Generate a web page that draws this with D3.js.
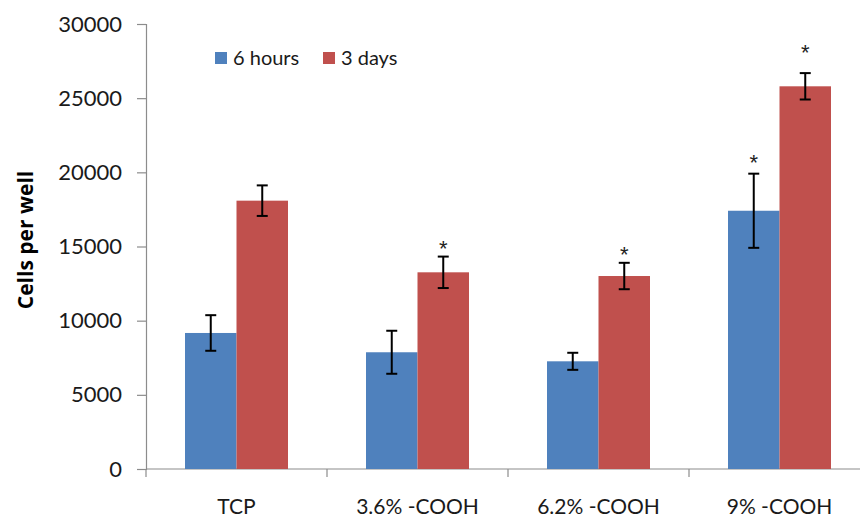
<!DOCTYPE html>
<html>
<head>
<meta charset="utf-8">
<script src="https://cdn.jsdelivr.net/npm/d3@7"></script>
<style>
  html, body { margin: 0; padding: 0; background: #fff; }
  svg { display: block; }
  text { font-family: Lato, "Open Sans", sans-serif; }
</style>
</head>
<body>
<svg id="chart" width="860" height="518"></svg>
<script>
// ---- data ----
const categories = ["TCP", "3.6% -COOH", "6.2% -COOH", "9% -COOH"];
const seriesNames = ["6 hours", "3 days"];
const hours6 = [9170, 7870, 7260, 17410];
const hours6Err = [1200, 1450, 575, 2500];
const days3 = [18090, 13260, 13010, 25800];
const days3Err = [1030, 1060, 890, 890];
// significance stars: value (data units) at which each star is drawn, null = none
const hours6Star = [null, null, null, 20990];
const days3Star = [null, 15170, 14830, 28400];
const yTicks = [0, 5000, 10000, 15000, 20000, 25000, 30000];
const yLabel = "Cells per well";

const colors = { "6 hours": "#4F81BD", "3 days": "#C0504D" };

const rows = categories.map((c, i) => ({
  cat: c,
  values: [
    { s: "6 hours", v: hours6[i], e: hours6Err[i], star: hours6Star[i] },
    { s: "3 days", v: days3[i], e: days3Err[i], star: days3Star[i] }
  ]
}));

// ---- layout ----
const svg = d3.select("#chart");
const plotLeft = 146, plotRight = 870, plotTop = 24, plotBottom = 469;
const pad = 0.431;

const y = d3.scaleLinear().domain([0, 30000]).range([plotBottom, plotTop]);
const x0 = d3.scaleBand().domain(categories).range([plotLeft, plotRight])
  .paddingInner(pad).paddingOuter(pad / 2);
const x1 = d3.scaleBand().domain(seriesNames).range([0, x0.bandwidth()]);

const axisColor = "#8c8c8c";

// y axis
const yAxis = svg.append("g")
  .attr("transform", `translate(${plotLeft},0)`)
  .call(d3.axisLeft(y).tickValues(yTicks).tickSize(9).tickPadding(15).tickFormat(d3.format("d")));
yAxis.select(".domain").attr("stroke", axisColor).attr("stroke-width", 1.2);
yAxis.selectAll(".tick line").attr("stroke", axisColor).attr("stroke-width", 1.2);
yAxis.selectAll(".tick text").attr("font-size", 22).attr("fill", "#1a1a1a")
  .style("font-family", "Lato, 'Open Sans', sans-serif");

// x axis line
svg.append("line")
  .attr("x1", plotLeft).attr("x2", 860)
  .attr("y1", y(0)).attr("y2", y(0))
  .attr("stroke", axisColor).attr("stroke-width", 1.2);

// x ticks at category boundaries
const halfGap = (x0.step() - x0.bandwidth()) / 2;
svg.append("g").selectAll("line")
  .data(categories)
  .join("line")
  .attr("x1", d => x0(d) - halfGap).attr("x2", d => x0(d) - halfGap)
  .attr("y1", y(0)).attr("y2", y(0) + 8)
  .attr("stroke", axisColor).attr("stroke-width", 1.2);

// x labels
svg.append("g").selectAll("text")
  .data(categories)
  .join("text")
  .attr("x", d => x0(d) + x0.bandwidth() / 2)
  .attr("y", 514)
  .attr("text-anchor", "middle")
  .attr("font-size", 21)
  .attr("fill", "#1a1a1a")
  .text(d => d);

// bars
const groups = svg.append("g").selectAll("g")
  .data(rows)
  .join("g")
  .attr("transform", d => `translate(${x0(d.cat)},0)`);

groups.selectAll("rect")
  .data(d => d.values)
  .join("rect")
  .attr("x", d => x1(d.s))
  .attr("width", x1.bandwidth())
  .attr("y", d => y(d.v))
  .attr("height", d => y(0) - y(d.v))
  .attr("fill", d => colors[d.s]);

// error bars
const capW = 11;
const eb = groups.selectAll("g.err")
  .data(d => d.values)
  .join("g").attr("class", "err");
eb.append("line")
  .attr("x1", d => x1(d.s) + x1.bandwidth() / 2)
  .attr("x2", d => x1(d.s) + x1.bandwidth() / 2)
  .attr("y1", d => y(d.v + d.e)).attr("y2", d => y(d.v - d.e))
  .attr("stroke", "#000").attr("stroke-width", 2);
eb.append("line")
  .attr("x1", d => x1(d.s) + x1.bandwidth() / 2 - capW / 2)
  .attr("x2", d => x1(d.s) + x1.bandwidth() / 2 + capW / 2)
  .attr("y1", d => y(d.v + d.e)).attr("y2", d => y(d.v + d.e))
  .attr("stroke", "#000").attr("stroke-width", 2);
eb.append("line")
  .attr("x1", d => x1(d.s) + x1.bandwidth() / 2 - capW / 2)
  .attr("x2", d => x1(d.s) + x1.bandwidth() / 2 + capW / 2)
  .attr("y1", d => y(d.v - d.e)).attr("y2", d => y(d.v - d.e))
  .attr("stroke", "#000").attr("stroke-width", 2);

// stars
groups.selectAll("text.star")
  .data(d => d.values.filter(v => v.star !== null))
  .join("text").attr("class", "star")
  .attr("x", d => x1(d.s) + x1.bandwidth() / 2)
  .attr("y", d => y(d.star) + 12.5)
  .attr("text-anchor", "middle")
  .attr("font-size", 22)
  .style("font-family", "'Liberation Sans', Arial, sans-serif")
  .attr("fill", "#222")
  .text("*");

// y label
svg.append("text")
  .attr("transform", "translate(33,240) rotate(-90)")
  .attr("text-anchor", "middle")
  .attr("font-size", 21)
  .attr("font-weight", "bold")
  .style("font-family", "'Open Sans', Lato, sans-serif")
  .attr("fill", "#000")
  .text(yLabel);

// legend
const legendPos = [{ s: "6 hours", x: 215 }, { s: "3 days", x: 323 }];
const lg = svg.append("g").selectAll("g")
  .data(legendPos)
  .join("g")
  .attr("transform", d => `translate(${d.x},52)`);
lg.append("rect").attr("width", 12).attr("height", 12)
  .attr("fill", d => colors[d.s]);
lg.append("text").attr("x", 18).attr("y", 13)
  .attr("font-size", 20).attr("fill", "#1a1a1a")
  .text(d => d.s);
</script>
</body>
</html>
